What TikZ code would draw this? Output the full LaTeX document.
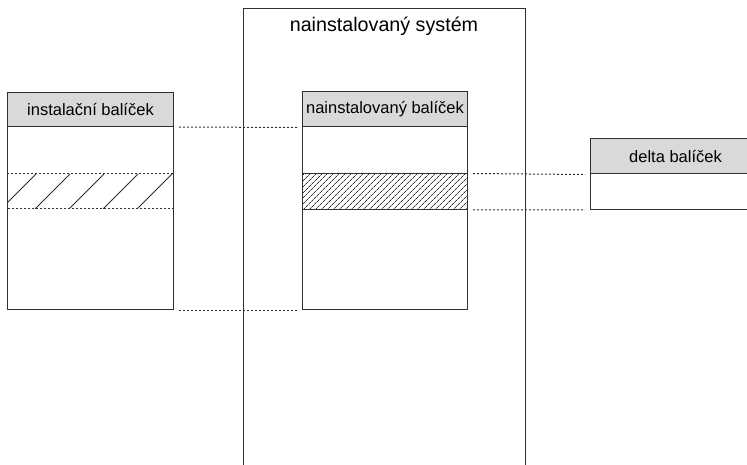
\documentclass[tikz,border=0pt]{standalone}
\usepackage{fontspec}
\setmainfont{Liberation Sans}
\usetikzlibrary{patterns.meta}
\definecolor{edgegray}{HTML}{303030}
\definecolor{headgray}{HTML}{D9D9D9}
\begin{document}
\begin{tikzpicture}[x=1pt,y=-1pt]
        \tikzstyle{frame}=[rectangle,draw=edgegray,line width=1pt,inner sep=0pt,anchor=north west]
        \tikzstyle{head}=[frame,fill=headgray,font=\fontsize{16.5}{18}\selectfont]
        \tikzstyle{link}=[draw=edgegray,line width=1pt,dash pattern=on 2pt off 2pt]
        \useasboundingbox (0,0) rectangle (747,465);
       % the system, open at the bottom
       \node [frame,minimum width=282pt,minimum height=480pt] (system) at (243,8) {};
       \node [font=\fontsize{19.7}{22}\selectfont] (systitle) at (384,26) {nainstalovaný systém};
       % installation package
       \begin{scope}
         \node [frame,minimum width=166pt,minimum height=183pt] (inst) at (7,126) {};
         \node [head,minimum width=166pt,minimum height=34pt] (insthead) at (7,92) {instalační balíček};
         \coordinate (instband) at (7,174);
         \begin{scope}
           \clip (7,174) rectangle (173,209);
           \foreach \x in {1,35,69,103,137}
             \draw [edgegray,line width=0.9pt] (\x,209) -- ++(35,-35);
         \end{scope}
         \draw [link] (instband) rectangle (173,209);
        \end{scope}
       % installed package
       \begin{scope}
         \node [frame,minimum width=165pt,minimum height=182.5pt] (pkg) at (302,126.5) {};
         \node [frame,pattern={Lines[angle=45,distance=4pt,line width=0.8pt]},pattern color=edgegray,
                minimum width=165pt,minimum height=35.5pt] (pkgband) at (302,173.5) {};
         \node [head,minimum width=165pt,minimum height=35.5pt] (pkghead) at (302,91) {nainstalovaný balíček};
        \end{scope}
       % delta package
       \begin{scope}
         \node [frame,minimum width=170pt,minimum height=35.5pt] (delta) at (590,173.5) {};
         \node [head,minimum width=170pt,minimum height=35.5pt] (deltahead) at (590,138) {delta balíček};
        \end{scope}
       % dotted links between the packages
       \path [link] ([xshift=5pt]insthead.south east) -- ([xshift=-5pt]pkghead.south west);
       \path [link] ([xshift=5pt]inst.south east) -- ([xshift=-5pt]pkg.south west);
       \path [link] ([xshift=5pt]pkgband.north east) -- ([xshift=-5pt]deltahead.south west);
       \path [link] ([xshift=5pt]pkgband.south east) -- ([xshift=-5pt]delta.south west);
      \end{tikzpicture}
\end{document}
